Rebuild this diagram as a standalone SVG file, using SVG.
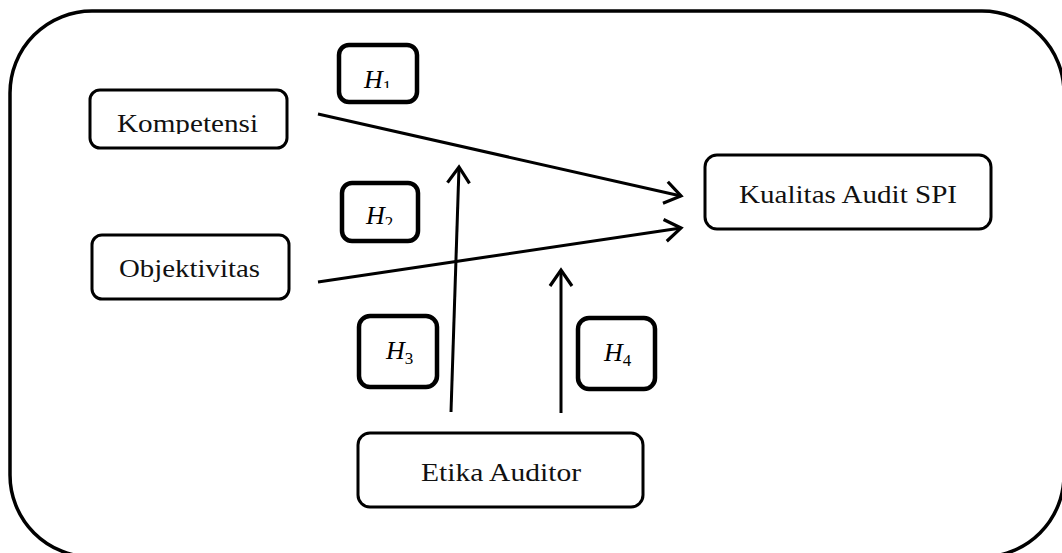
<svg xmlns="http://www.w3.org/2000/svg" width="1062" height="553" viewBox="0 0 1062 553">
  <style>
    .frame { fill: none; stroke: #000; stroke-width: 3.5; }
    .box { fill: #fff; stroke: #000; stroke-width: 3; }
    .hbox { fill: #fff; stroke: #000; stroke-width: 4.5; }
    .lbl { font-family: "Liberation Serif", "DejaVu Serif", serif; font-size: 26px; fill: #111; }
    .hyp { font-family: "Liberation Serif", "DejaVu Serif", serif; font-style: italic; font-size: 26px; fill: #000; }
    .sub { font-style: normal; font-size: 17px; }
    .edge { fill: none; stroke: #000; stroke-width: 3; }
  </style>
  <defs>
    <marker id="arrow" markerUnits="userSpaceOnUse" markerWidth="30" markerHeight="30" refX="0" refY="0" viewBox="-20 -15 24 30" orient="auto">
      <path d="M-16,-11 L0,0 L-16,11" fill="none" stroke="#000" stroke-width="3.2" stroke-linejoin="miter"/>
    </marker>
    <clipPath id="clipK"><rect x="90" y="90" width="200" height="44"/></clipPath>
    <clipPath id="clipH1"><rect x="339" y="45" width="80" height="43"/></clipPath>
    <clipPath id="clipH2"><rect x="342" y="183" width="78" height="42"/></clipPath>
  </defs>

  <!-- outer frame, right and bottom edges run just past the canvas -->
  <rect class="frame" x="10" y="11" width="1054" height="546" rx="82" ry="82"/>

  <!-- connectors -->
  <g id="connectors">
    <line class="edge" x1="318" y1="114" x2="681" y2="196" marker-end="url(#arrow)"/>
    <line class="edge" x1="318" y1="282" x2="681" y2="228" marker-end="url(#arrow)"/>
    <line class="edge" x1="451" y1="412" x2="459" y2="167" marker-end="url(#arrow)"/>
    <line class="edge" x1="561" y1="413" x2="561" y2="270" marker-end="url(#arrow)"/>
  </g>

  <g id="kompetensi">
    <rect class="box" x="90" y="90" width="197" height="58" rx="10"/>
    <text class="lbl" x="117" y="132" textLength="141" lengthAdjust="spacingAndGlyphs" clip-path="url(#clipK)">Kompetensi</text>
  </g>

  <g id="objektivitas">
    <rect class="box" x="92" y="235" width="197" height="64" rx="10"/>
    <text class="lbl" x="119" y="277" textLength="141" lengthAdjust="spacingAndGlyphs">Objektivitas</text>
  </g>

  <g id="kualitas">
    <rect class="box" x="705" y="155" width="286" height="74" rx="12"/>
    <text class="lbl" x="739" y="203" textLength="218" lengthAdjust="spacingAndGlyphs">Kualitas Audit SPI</text>
  </g>

  <g id="etika">
    <rect class="box" x="358" y="433" width="285" height="74" rx="12"/>
    <text class="lbl" x="421" y="481" textLength="160" lengthAdjust="spacingAndGlyphs">Etika Auditor</text>
  </g>

  <g id="h1">
    <rect class="hbox" x="339" y="45" width="78" height="57" rx="10"/>
    <text class="hyp" x="364" y="88" clip-path="url(#clipH1)">H<tspan class="sub" dy="4">1</tspan></text>
  </g>

  <g id="h2">
    <rect class="hbox" x="342" y="183" width="76" height="58" rx="10"/>
    <text class="hyp" x="366" y="224" clip-path="url(#clipH2)">H<tspan class="sub" dy="4">2</tspan></text>
  </g>

  <g id="h3">
    <rect class="hbox" x="359" y="316" width="78" height="71" rx="11"/>
    <text class="hyp" x="386" y="359">H<tspan class="sub" dy="5">3</tspan></text>
  </g>

  <g id="h4">
    <rect class="hbox" x="578" y="318" width="77" height="71" rx="11"/>
    <text class="hyp" x="604" y="361">H<tspan class="sub" dy="5">4</tspan></text>
  </g>
</svg>
